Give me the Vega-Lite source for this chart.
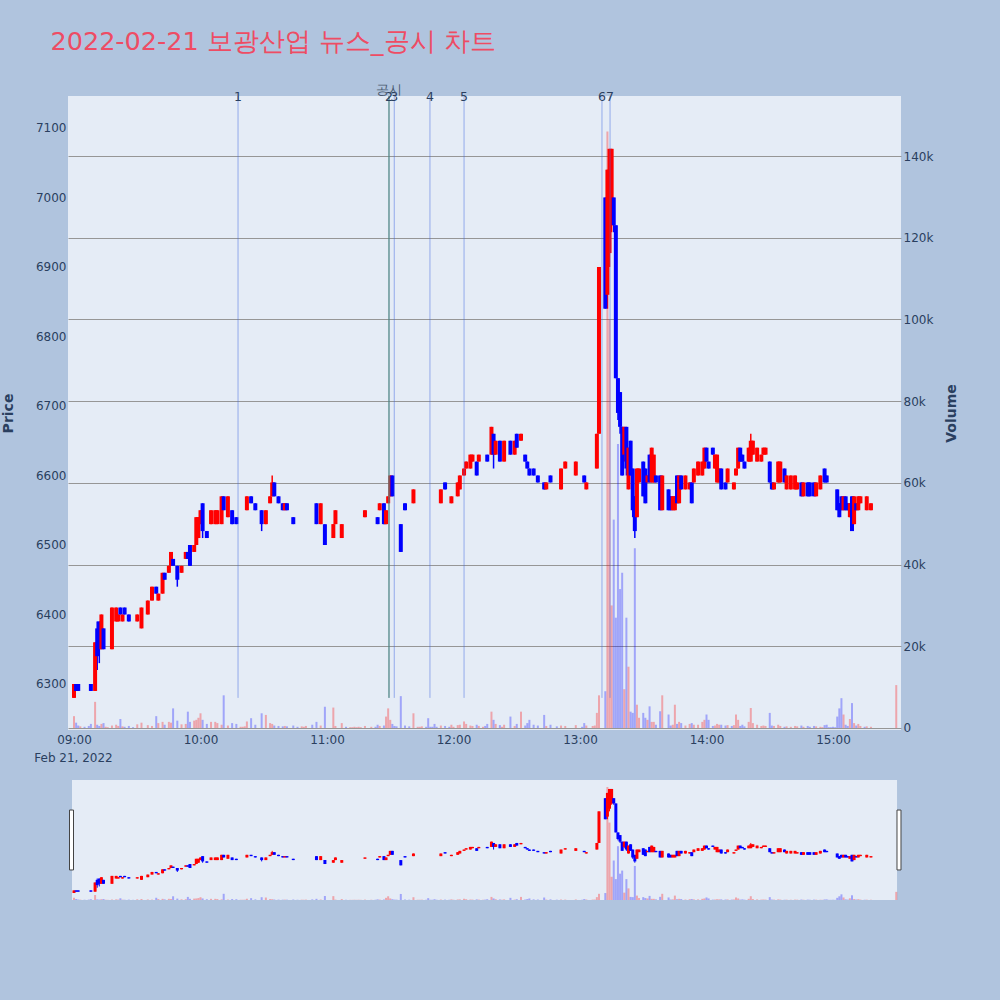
{
  "$schema": "https://vega.github.io/schema/vega-lite/v6.json",
  "background": "#b0c4de",
  "autosize": {"type": "none"},
  "padding": {"left": 68, "top": 96, "right": 99, "bottom": 270},
  "width": 833,
  "height": 634,
  "title": {
    "text": "2022-02-21 보광산업 뉴스_공시 차트",
    "anchor": "start",
    "fontSize": 25.5,
    "fontWeight": "normal",
    "color": "#ee4c64",
    "offset": 29,
    "dx": 49
  },
  "config": {
    "font": "DejaVu Sans",
    "view": {"stroke": null},
    "axis": {
      "labelColor": "#2a3f5f",
      "titleColor": "#2a3f5f",
      "labelFontSize": 12,
      "titleFontSize": 14,
      "titleFontWeight": "bold",
      "ticks": false,
      "domain": false
    }
  },
  "view": {"fill": "#e5ecf6", "stroke": null},
  "data": {
    "values": [
      {"t":"2022-02-21 09:00","o":6280,"h":6300,"l":6280,"c":6300,"v":2900},
      {"t":"2022-02-21 09:01","o":6300,"h":6300,"l":6290,"c":6290,"v":1300},
      {"t":"2022-02-21 09:02","o":6300,"h":6300,"l":6290,"c":6290,"v":600},
      {"t":"2022-02-21 09:03","o":6310,"h":6310,"l":6310,"c":6310,"v":400,"u":1},
      {"t":"2022-02-21 09:05","o":6300,"h":6300,"l":6300,"c":6300,"v":300},
      {"t":"2022-02-21 09:07","o":6300,"h":6300,"l":6300,"c":6300,"v":500},
      {"t":"2022-02-21 09:08","o":6300,"h":6300,"l":6290,"c":6290,"v":1000},
      {"t":"2022-02-21 09:10","o":6290,"h":6360,"l":6290,"c":6360,"v":6400},
      {"t":"2022-02-21 09:11","o":6380,"h":6390,"l":6320,"c":6340,"v":800},
      {"t":"2022-02-21 09:12","o":6390,"h":6390,"l":6330,"c":6350,"v":500},
      {"t":"2022-02-21 09:13","o":6350,"h":6400,"l":6350,"c":6400,"v":1000},
      {"t":"2022-02-21 09:14","o":6380,"h":6380,"l":6350,"c":6350,"v":1200},
      {"t":"2022-02-21 09:15","o":6360,"h":6360,"l":6360,"c":6360,"v":300,"u":1},
      {"t":"2022-02-21 09:16","o":6360,"h":6360,"l":6360,"c":6360,"v":200,"u":1},
      {"t":"2022-02-21 09:18","o":6350,"h":6410,"l":6350,"c":6410,"v":600},
      {"t":"2022-02-21 09:20","o":6390,"h":6410,"l":6390,"c":6410,"v":800},
      {"t":"2022-02-21 09:21","o":6390,"h":6400,"l":6390,"c":6400,"v":500},
      {"t":"2022-02-21 09:22","o":6410,"h":6410,"l":6400,"c":6400,"v":2200},
      {"t":"2022-02-21 09:23","o":6390,"h":6400,"l":6390,"c":6400,"v":400},
      {"t":"2022-02-21 09:24","o":6410,"h":6410,"l":6400,"c":6400,"v":300},
      {"t":"2022-02-21 09:26","o":6400,"h":6400,"l":6390,"c":6390,"v":500},
      {"t":"2022-02-21 09:28","o":6380,"h":6380,"l":6380,"c":6380,"v":200},
      {"t":"2022-02-21 09:30","o":6390,"h":6400,"l":6390,"c":6400,"v":900},
      {"t":"2022-02-21 09:32","o":6380,"h":6410,"l":6380,"c":6410,"v":1300},
      {"t":"2022-02-21 09:35","o":6400,"h":6420,"l":6400,"c":6420,"v":700},
      {"t":"2022-02-21 09:37","o":6420,"h":6440,"l":6420,"c":6440,"v":500},
      {"t":"2022-02-21 09:39","o":6440,"h":6440,"l":6430,"c":6430,"v":2900},
      {"t":"2022-02-21 09:40","o":6420,"h":6430,"l":6420,"c":6430,"v":1200},
      {"t":"2022-02-21 09:42","o":6430,"h":6460,"l":6430,"c":6460,"v":1500},
      {"t":"2022-02-21 09:43","o":6460,"h":6460,"l":6450,"c":6450,"v":800},
      {"t":"2022-02-21 09:45","o":6460,"h":6470,"l":6460,"c":6470,"v":1500},
      {"t":"2022-02-21 09:46","o":6470,"h":6490,"l":6470,"c":6490,"v":1300},
      {"t":"2022-02-21 09:47","o":6480,"h":6480,"l":6470,"c":6470,"v":4800},
      {"t":"2022-02-21 09:49","o":6470,"h":6470,"l":6440,"c":6450,"v":1800},
      {"t":"2022-02-21 09:51","o":6460,"h":6470,"l":6460,"c":6470,"v":900},
      {"t":"2022-02-21 09:53","o":6480,"h":6490,"l":6480,"c":6490,"v":1000},
      {"t":"2022-02-21 09:54","o":6490,"h":6490,"l":6480,"c":6480,"v":4000},
      {"t":"2022-02-21 09:55","o":6500,"h":6500,"l":6470,"c":6470,"v":1500},
      {"t":"2022-02-21 09:57","o":6490,"h":6500,"l":6490,"c":6500,"v":1800},
      {"t":"2022-02-21 09:58","o":6500,"h":6540,"l":6500,"c":6540,"v":2000},
      {"t":"2022-02-21 09:59","o":6510,"h":6540,"l":6510,"c":6540,"v":2500},
      {"t":"2022-02-21 10:00","o":6530,"h":6550,"l":6530,"c":6550,"v":3600},
      {"t":"2022-02-21 10:01","o":6560,"h":6560,"l":6510,"c":6520,"v":2000},
      {"t":"2022-02-21 10:03","o":6520,"h":6520,"l":6510,"c":6510,"v":1000},
      {"t":"2022-02-21 10:05","o":6530,"h":6550,"l":6530,"c":6550,"v":1500},
      {"t":"2022-02-21 10:07","o":6530,"h":6550,"l":6530,"c":6550,"v":1500},
      {"t":"2022-02-21 10:08","o":6530,"h":6550,"l":6530,"c":6550,"v":1200},
      {"t":"2022-02-21 10:10","o":6530,"h":6570,"l":6530,"c":6570,"v":800},
      {"t":"2022-02-21 10:11","o":6570,"h":6570,"l":6550,"c":6550,"v":8000},
      {"t":"2022-02-21 10:13","o":6540,"h":6570,"l":6540,"c":6570,"v":600},
      {"t":"2022-02-21 10:15","o":6550,"h":6550,"l":6530,"c":6530,"v":1200},
      {"t":"2022-02-21 10:17","o":6540,"h":6540,"l":6530,"c":6530,"v":1000},
      {"t":"2022-02-21 10:19","o":6550,"h":6550,"l":6550,"c":6550,"v":300,"u":1},
      {"t":"2022-02-21 10:20","o":6550,"h":6550,"l":6550,"c":6550,"v":300,"u":1},
      {"t":"2022-02-21 10:21","o":6550,"h":6550,"l":6550,"c":6550,"v":400,"u":1},
      {"t":"2022-02-21 10:22","o":6550,"h":6570,"l":6550,"c":6570,"v":1600},
      {"t":"2022-02-21 10:24","o":6570,"h":6570,"l":6560,"c":6560,"v":2400},
      {"t":"2022-02-21 10:26","o":6560,"h":6560,"l":6550,"c":6550,"v":800},
      {"t":"2022-02-21 10:29","o":6550,"h":6550,"l":6520,"c":6530,"v":3600},
      {"t":"2022-02-21 10:31","o":6530,"h":6550,"l":6530,"c":6550,"v":3200},
      {"t":"2022-02-21 10:33","o":6560,"h":6570,"l":6560,"c":6570,"v":1200},
      {"t":"2022-02-21 10:34","o":6570,"h":6600,"l":6570,"c":6590,"v":1000},
      {"t":"2022-02-21 10:35","o":6590,"h":6590,"l":6570,"c":6570,"v":600},
      {"t":"2022-02-21 10:37","o":6570,"h":6570,"l":6560,"c":6560,"v":500},
      {"t":"2022-02-21 10:39","o":6560,"h":6560,"l":6550,"c":6550,"v":400},
      {"t":"2022-02-21 10:40","o":6550,"h":6560,"l":6550,"c":6560,"v":500},
      {"t":"2022-02-21 10:41","o":6560,"h":6560,"l":6550,"c":6550,"v":400},
      {"t":"2022-02-21 10:44","o":6540,"h":6540,"l":6530,"c":6530,"v":600},
      {"t":"2022-02-21 10:46","o":6530,"h":6530,"l":6530,"c":6530,"v":300},
      {"t":"2022-02-21 10:48","o":6540,"h":6540,"l":6540,"c":6540,"v":400,"u":1},
      {"t":"2022-02-21 10:49","o":6540,"h":6540,"l":6540,"c":6540,"v":300,"u":1},
      {"t":"2022-02-21 10:50","o":6540,"h":6540,"l":6540,"c":6540,"v":500,"u":1},
      {"t":"2022-02-21 10:53","o":6530,"h":6530,"l":6530,"c":6530,"v":800},
      {"t":"2022-02-21 10:55","o":6560,"h":6560,"l":6530,"c":6530,"v":1500},
      {"t":"2022-02-21 10:57","o":6530,"h":6560,"l":6530,"c":6560,"v":600},
      {"t":"2022-02-21 10:59","o":6530,"h":6530,"l":6500,"c":6500,"v":5200},
      {"t":"2022-02-21 11:03","o":6510,"h":6530,"l":6510,"c":6530,"v":5000},
      {"t":"2022-02-21 11:04","o":6530,"h":6550,"l":6530,"c":6550,"v":500},
      {"t":"2022-02-21 11:07","o":6510,"h":6530,"l":6510,"c":6530,"v":1200},
      {"t":"2022-02-21 11:09","o":6520,"h":6520,"l":6520,"c":6520,"v":300},
      {"t":"2022-02-21 11:11","o":6530,"h":6530,"l":6530,"c":6530,"v":200,"u":1},
      {"t":"2022-02-21 11:12","o":6530,"h":6530,"l":6530,"c":6530,"v":200,"u":1},
      {"t":"2022-02-21 11:13","o":6530,"h":6530,"l":6530,"c":6530,"v":300,"u":1},
      {"t":"2022-02-21 11:14","o":6530,"h":6530,"l":6530,"c":6530,"v":200,"u":1},
      {"t":"2022-02-21 11:15","o":6530,"h":6530,"l":6530,"c":6530,"v":300,"u":1},
      {"t":"2022-02-21 11:16","o":6530,"h":6530,"l":6530,"c":6530,"v":200,"u":1},
      {"t":"2022-02-21 11:18","o":6540,"h":6550,"l":6540,"c":6550,"v":500},
      {"t":"2022-02-21 11:21","o":6560,"h":6560,"l":6560,"c":6560,"v":300,"u":1},
      {"t":"2022-02-21 11:23","o":6550,"h":6550,"l":6550,"c":6550,"v":300},
      {"t":"2022-02-21 11:24","o":6540,"h":6540,"l":6530,"c":6530,"v":800},
      {"t":"2022-02-21 11:25","o":6550,"h":6560,"l":6550,"c":6560,"v":500},
      {"t":"2022-02-21 11:27","o":6560,"h":6560,"l":6530,"c":6530,"v":600},
      {"t":"2022-02-21 11:28","o":6530,"h":6550,"l":6530,"c":6550,"v":2800},
      {"t":"2022-02-21 11:29","o":6560,"h":6570,"l":6560,"c":6570,"v":4800},
      {"t":"2022-02-21 11:30","o":6570,"h":6600,"l":6570,"c":6600,"v":2000},
      {"t":"2022-02-21 11:31","o":6600,"h":6600,"l":6570,"c":6570,"v":1000},
      {"t":"2022-02-21 11:32","o":6570,"h":6570,"l":6570,"c":6570,"v":500},
      {"t":"2022-02-21 11:33","o":6570,"h":6570,"l":6570,"c":6570,"v":400},
      {"t":"2022-02-21 11:35","o":6530,"h":6530,"l":6490,"c":6490,"v":7800},
      {"t":"2022-02-21 11:37","o":6560,"h":6560,"l":6550,"c":6550,"v":600},
      {"t":"2022-02-21 11:39","o":6550,"h":6550,"l":6550,"c":6550,"v":400},
      {"t":"2022-02-21 11:41","o":6560,"h":6580,"l":6560,"c":6580,"v":3600},
      {"t":"2022-02-21 11:43","o":6590,"h":6590,"l":6590,"c":6590,"v":300,"u":1},
      {"t":"2022-02-21 11:44","o":6590,"h":6590,"l":6590,"c":6590,"v":300,"u":1},
      {"t":"2022-02-21 11:45","o":6590,"h":6590,"l":6590,"c":6590,"v":400,"u":1},
      {"t":"2022-02-21 11:47","o":6560,"h":6560,"l":6560,"c":6560,"v":300},
      {"t":"2022-02-21 11:48","o":6560,"h":6560,"l":6560,"c":6560,"v":2400},
      {"t":"2022-02-21 11:49","o":6560,"h":6560,"l":6560,"c":6560,"v":300},
      {"t":"2022-02-21 11:50","o":6550,"h":6550,"l":6550,"c":6550,"v":300},
      {"t":"2022-02-21 11:51","o":6550,"h":6550,"l":6550,"c":6550,"v":1000},
      {"t":"2022-02-21 11:52","o":6550,"h":6550,"l":6550,"c":6550,"v":300},
      {"t":"2022-02-21 11:54","o":6560,"h":6580,"l":6560,"c":6580,"v":600},
      {"t":"2022-02-21 11:56","o":6590,"h":6590,"l":6580,"c":6580,"v":500},
      {"t":"2022-02-21 11:58","o":6570,"h":6570,"l":6570,"c":6570,"v":300},
      {"t":"2022-02-21 11:59","o":6560,"h":6570,"l":6560,"c":6570,"v":800},
      {"t":"2022-02-21 12:00","o":6570,"h":6570,"l":6570,"c":6570,"v":300,"u":1},
      {"t":"2022-02-21 12:02","o":6570,"h":6590,"l":6570,"c":6590,"v":700},
      {"t":"2022-02-21 12:03","o":6580,"h":6600,"l":6580,"c":6600,"v":800},
      {"t":"2022-02-21 12:05","o":6600,"h":6610,"l":6600,"c":6610,"v":1600},
      {"t":"2022-02-21 12:06","o":6610,"h":6620,"l":6610,"c":6620,"v":1000},
      {"t":"2022-02-21 12:08","o":6610,"h":6630,"l":6610,"c":6630,"v":600},
      {"t":"2022-02-21 12:09","o":6620,"h":6630,"l":6620,"c":6630,"v":500},
      {"t":"2022-02-21 12:11","o":6620,"h":6620,"l":6600,"c":6600,"v":800},
      {"t":"2022-02-21 12:12","o":6620,"h":6630,"l":6620,"c":6630,"v":500},
      {"t":"2022-02-21 12:14","o":6630,"h":6630,"l":6630,"c":6630,"v":300,"u":1},
      {"t":"2022-02-21 12:15","o":6620,"h":6620,"l":6620,"c":6620,"v":500},
      {"t":"2022-02-21 12:16","o":6630,"h":6630,"l":6620,"c":6620,"v":1000},
      {"t":"2022-02-21 12:18","o":6630,"h":6670,"l":6630,"c":6670,"v":4000},
      {"t":"2022-02-21 12:19","o":6660,"h":6660,"l":6610,"c":6630,"v":2000},
      {"t":"2022-02-21 12:20","o":6630,"h":6650,"l":6630,"c":6650,"v":1000},
      {"t":"2022-02-21 12:22","o":6650,"h":6650,"l":6620,"c":6620,"v":700},
      {"t":"2022-02-21 12:23","o":6650,"h":6650,"l":6650,"c":6650,"v":300,"u":1},
      {"t":"2022-02-21 12:24","o":6620,"h":6650,"l":6620,"c":6650,"v":800},
      {"t":"2022-02-21 12:27","o":6650,"h":6650,"l":6630,"c":6630,"v":2800},
      {"t":"2022-02-21 12:29","o":6630,"h":6650,"l":6630,"c":6650,"v":500},
      {"t":"2022-02-21 12:30","o":6660,"h":6660,"l":6640,"c":6640,"v":1000},
      {"t":"2022-02-21 12:32","o":6650,"h":6660,"l":6650,"c":6660,"v":4000},
      {"t":"2022-02-21 12:34","o":6630,"h":6630,"l":6620,"c":6620,"v":600},
      {"t":"2022-02-21 12:35","o":6620,"h":6620,"l":6610,"c":6610,"v":1200},
      {"t":"2022-02-21 12:36","o":6610,"h":6610,"l":6600,"c":6600,"v":2000},
      {"t":"2022-02-21 12:38","o":6610,"h":6610,"l":6600,"c":6600,"v":800},
      {"t":"2022-02-21 12:40","o":6600,"h":6600,"l":6590,"c":6590,"v":600},
      {"t":"2022-02-21 12:43","o":6590,"h":6590,"l":6580,"c":6580,"v":3200},
      {"t":"2022-02-21 12:44","o":6580,"h":6590,"l":6580,"c":6590,"v":500},
      {"t":"2022-02-21 12:46","o":6600,"h":6600,"l":6590,"c":6590,"v":800},
      {"t":"2022-02-21 12:49","o":6580,"h":6580,"l":6580,"c":6580,"v":400},
      {"t":"2022-02-21 12:51","o":6580,"h":6610,"l":6580,"c":6610,"v":600},
      {"t":"2022-02-21 12:53","o":6610,"h":6620,"l":6610,"c":6620,"v":500},
      {"t":"2022-02-21 12:58","o":6600,"h":6620,"l":6600,"c":6620,"v":700},
      {"t":"2022-02-21 13:01","o":6610,"h":6610,"l":6610,"c":6610,"v":300},
      {"t":"2022-02-21 13:02","o":6600,"h":6600,"l":6590,"c":6590,"v":1200},
      {"t":"2022-02-21 13:03","o":6580,"h":6590,"l":6580,"c":6590,"v":600},
      {"t":"2022-02-21 13:06","o":6610,"h":6610,"l":6610,"c":6610,"v":500,"u":1},
      {"t":"2022-02-21 13:07","o":6610,"h":6610,"l":6610,"c":6610,"v":600,"u":1},
      {"t":"2022-02-21 13:08","o":6610,"h":6660,"l":6610,"c":6660,"v":3700},
      {"t":"2022-02-21 13:09","o":6660,"h":6900,"l":6660,"c":6900,"v":8000},
      {"t":"2022-02-21 13:12","o":7000,"h":7000,"l":6840,"c":6840,"v":9000},
      {"t":"2022-02-21 13:13","o":6860,"h":7040,"l":6840,"c":7040,"v":146000},
      {"t":"2022-02-21 13:14","o":6920,"h":7070,"l":6900,"c":7070,"v":100000},
      {"t":"2022-02-21 13:15","o":6960,"h":7070,"l":6950,"c":7070,"v":30000},
      {"t":"2022-02-21 13:16","o":7000,"h":7000,"l":6950,"c":6960,"v":51000},
      {"t":"2022-02-21 13:17","o":6960,"h":6960,"l":6740,"c":6740,"v":27000},
      {"t":"2022-02-21 13:18","o":6740,"h":6740,"l":6680,"c":6690,"v":69500},
      {"t":"2022-02-21 13:19","o":6720,"h":6720,"l":6660,"c":6670,"v":34000},
      {"t":"2022-02-21 13:20","o":6670,"h":6670,"l":6600,"c":6600,"v":38000},
      {"t":"2022-02-21 13:21","o":6630,"h":6670,"l":6620,"c":6670,"v":9500},
      {"t":"2022-02-21 13:22","o":6670,"h":6670,"l":6600,"c":6610,"v":27000},
      {"t":"2022-02-21 13:23","o":6580,"h":6640,"l":6580,"c":6640,"v":15000},
      {"t":"2022-02-21 13:24","o":6650,"h":6650,"l":6600,"c":6600,"v":4000},
      {"t":"2022-02-21 13:25","o":6610,"h":6610,"l":6540,"c":6550,"v":3700},
      {"t":"2022-02-21 13:26","o":6570,"h":6570,"l":6510,"c":6520,"v":44000},
      {"t":"2022-02-21 13:27","o":6540,"h":6610,"l":6540,"c":6610,"v":5700},
      {"t":"2022-02-21 13:28","o":6590,"h":6610,"l":6590,"c":6610,"v":2500},
      {"t":"2022-02-21 13:30","o":6620,"h":6620,"l":6570,"c":6570,"v":3700},
      {"t":"2022-02-21 13:31","o":6610,"h":6610,"l":6560,"c":6560,"v":2500},
      {"t":"2022-02-21 13:32","o":6590,"h":6600,"l":6590,"c":6600,"v":2000},
      {"t":"2022-02-21 13:33","o":6630,"h":6630,"l":6590,"c":6590,"v":5300},
      {"t":"2022-02-21 13:34","o":6590,"h":6640,"l":6590,"c":6640,"v":1500},
      {"t":"2022-02-21 13:35","o":6590,"h":6630,"l":6590,"c":6630,"v":1500},
      {"t":"2022-02-21 13:36","o":6600,"h":6600,"l":6590,"c":6590,"v":800},
      {"t":"2022-02-21 13:38","o":6600,"h":6600,"l":6550,"c":6550,"v":4100},
      {"t":"2022-02-21 13:39","o":6550,"h":6600,"l":6550,"c":6600,"v":8000},
      {"t":"2022-02-21 13:42","o":6580,"h":6580,"l":6550,"c":6550,"v":3300},
      {"t":"2022-02-21 13:43","o":6570,"h":6570,"l":6550,"c":6550,"v":600},
      {"t":"2022-02-21 13:44","o":6550,"h":6570,"l":6550,"c":6570,"v":800},
      {"t":"2022-02-21 13:45","o":6550,"h":6570,"l":6550,"c":6570,"v":5700},
      {"t":"2022-02-21 13:46","o":6600,"h":6600,"l":6560,"c":6560,"v":1000},
      {"t":"2022-02-21 13:47","o":6560,"h":6600,"l":6560,"c":6600,"v":1500},
      {"t":"2022-02-21 13:48","o":6600,"h":6600,"l":6580,"c":6580,"v":1200},
      {"t":"2022-02-21 13:50","o":6580,"h":6600,"l":6580,"c":6600,"v":600},
      {"t":"2022-02-21 13:52","o":6580,"h":6590,"l":6580,"c":6590,"v":1000},
      {"t":"2022-02-21 13:53","o":6590,"h":6590,"l":6560,"c":6560,"v":1200},
      {"t":"2022-02-21 13:54","o":6590,"h":6610,"l":6590,"c":6610,"v":800},
      {"t":"2022-02-21 13:56","o":6600,"h":6620,"l":6600,"c":6620,"v":800},
      {"t":"2022-02-21 13:58","o":6600,"h":6620,"l":6600,"c":6620,"v":1500},
      {"t":"2022-02-21 13:59","o":6610,"h":6640,"l":6610,"c":6640,"v":2000},
      {"t":"2022-02-21 14:00","o":6640,"h":6640,"l":6620,"c":6620,"v":3300},
      {"t":"2022-02-21 14:01","o":6620,"h":6620,"l":6610,"c":6610,"v":2000},
      {"t":"2022-02-21 14:03","o":6640,"h":6640,"l":6630,"c":6630,"v":500},
      {"t":"2022-02-21 14:04","o":6610,"h":6630,"l":6610,"c":6630,"v":600},
      {"t":"2022-02-21 14:05","o":6590,"h":6630,"l":6590,"c":6630,"v":1000},
      {"t":"2022-02-21 14:06","o":6590,"h":6610,"l":6590,"c":6610,"v":800},
      {"t":"2022-02-21 14:07","o":6610,"h":6610,"l":6580,"c":6580,"v":800},
      {"t":"2022-02-21 14:09","o":6590,"h":6590,"l":6580,"c":6580,"v":600},
      {"t":"2022-02-21 14:10","o":6590,"h":6610,"l":6590,"c":6610,"v":700},
      {"t":"2022-02-21 14:12","o":6600,"h":6600,"l":6600,"c":6600,"v":500},
      {"t":"2022-02-21 14:13","o":6580,"h":6590,"l":6580,"c":6590,"v":700},
      {"t":"2022-02-21 14:14","o":6600,"h":6610,"l":6600,"c":6610,"v":3300},
      {"t":"2022-02-21 14:15","o":6610,"h":6640,"l":6610,"c":6640,"v":2000},
      {"t":"2022-02-21 14:16","o":6640,"h":6640,"l":6620,"c":6620,"v":500},
      {"t":"2022-02-21 14:17","o":6630,"h":6630,"l":6620,"c":6620,"v":800},
      {"t":"2022-02-21 14:18","o":6620,"h":6620,"l":6610,"c":6610,"v":400},
      {"t":"2022-02-21 14:20","o":6620,"h":6640,"l":6620,"c":6640,"v":1500},
      {"t":"2022-02-21 14:21","o":6620,"h":6660,"l":6620,"c":6650,"v":4900},
      {"t":"2022-02-21 14:22","o":6630,"h":6650,"l":6630,"c":6650,"v":1200},
      {"t":"2022-02-21 14:24","o":6620,"h":6640,"l":6620,"c":6640,"v":800},
      {"t":"2022-02-21 14:26","o":6620,"h":6630,"l":6620,"c":6630,"v":500},
      {"t":"2022-02-21 14:27","o":6630,"h":6640,"l":6630,"c":6640,"v":600},
      {"t":"2022-02-21 14:28","o":6630,"h":6640,"l":6630,"c":6640,"v":500},
      {"t":"2022-02-21 14:30","o":6620,"h":6620,"l":6590,"c":6590,"v":3700},
      {"t":"2022-02-21 14:31","o":6590,"h":6590,"l":6580,"c":6580,"v":600},
      {"t":"2022-02-21 14:32","o":6580,"h":6590,"l":6580,"c":6590,"v":500},
      {"t":"2022-02-21 14:34","o":6590,"h":6620,"l":6590,"c":6620,"v":800},
      {"t":"2022-02-21 14:35","o":6590,"h":6620,"l":6590,"c":6620,"v":500},
      {"t":"2022-02-21 14:37","o":6610,"h":6610,"l":6590,"c":6590,"v":300},
      {"t":"2022-02-21 14:38","o":6580,"h":6600,"l":6580,"c":6600,"v":400},
      {"t":"2022-02-21 14:40","o":6580,"h":6600,"l":6580,"c":6600,"v":300},
      {"t":"2022-02-21 14:42","o":6580,"h":6600,"l":6580,"c":6600,"v":500},
      {"t":"2022-02-21 14:43","o":6580,"h":6590,"l":6580,"c":6590,"v":400},
      {"t":"2022-02-21 14:45","o":6590,"h":6590,"l":6570,"c":6570,"v":600},
      {"t":"2022-02-21 14:46","o":6570,"h":6590,"l":6570,"c":6590,"v":300},
      {"t":"2022-02-21 14:48","o":6590,"h":6590,"l":6570,"c":6570,"v":500},
      {"t":"2022-02-21 14:49","o":6590,"h":6590,"l":6570,"c":6570,"v":300},
      {"t":"2022-02-21 14:51","o":6590,"h":6590,"l":6570,"c":6570,"v":500},
      {"t":"2022-02-21 14:52","o":6570,"h":6590,"l":6570,"c":6590,"v":400},
      {"t":"2022-02-21 14:54","o":6580,"h":6600,"l":6580,"c":6600,"v":300},
      {"t":"2022-02-21 14:55","o":6620,"h":6620,"l":6620,"c":6620,"v":200,"u":1},
      {"t":"2022-02-21 14:56","o":6610,"h":6610,"l":6590,"c":6590,"v":700},
      {"t":"2022-02-21 14:57","o":6600,"h":6600,"l":6590,"c":6590,"v":800},
      {"t":"2022-02-21 14:58","o":6590,"h":6590,"l":6590,"c":6590,"v":200},
      {"t":"2022-02-21 14:59","o":6590,"h":6590,"l":6590,"c":6590,"v":200},
      {"t":"2022-02-21 15:00","o":6590,"h":6590,"l":6590,"c":6590,"v":300},
      {"t":"2022-02-21 15:01","o":6590,"h":6590,"l":6590,"c":6590,"v":200},
      {"t":"2022-02-21 15:02","o":6580,"h":6580,"l":6550,"c":6550,"v":2800},
      {"t":"2022-02-21 15:03","o":6560,"h":6560,"l":6540,"c":6540,"v":4800},
      {"t":"2022-02-21 15:04","o":6570,"h":6570,"l":6550,"c":6550,"v":7300},
      {"t":"2022-02-21 15:05","o":6550,"h":6570,"l":6550,"c":6570,"v":3300},
      {"t":"2022-02-21 15:06","o":6570,"h":6570,"l":6550,"c":6550,"v":800},
      {"t":"2022-02-21 15:07","o":6560,"h":6560,"l":6550,"c":6550,"v":500},
      {"t":"2022-02-21 15:08","o":6540,"h":6560,"l":6540,"c":6560,"v":2200},
      {"t":"2022-02-21 15:09","o":6570,"h":6570,"l":6520,"c":6520,"v":6100},
      {"t":"2022-02-21 15:10","o":6530,"h":6570,"l":6530,"c":6570,"v":1200},
      {"t":"2022-02-21 15:11","o":6560,"h":6560,"l":6550,"c":6550,"v":600},
      {"t":"2022-02-21 15:12","o":6550,"h":6570,"l":6550,"c":6570,"v":1000},
      {"t":"2022-02-21 15:13","o":6560,"h":6570,"l":6560,"c":6570,"v":500},
      {"t":"2022-02-21 15:15","o":6560,"h":6560,"l":6560,"c":6560,"v":300},
      {"t":"2022-02-21 15:16","o":6550,"h":6570,"l":6550,"c":6570,"v":400},
      {"t":"2022-02-21 15:18","o":6550,"h":6560,"l":6550,"c":6560,"v":300},
      {"t":"2022-02-21 15:30","o":6590,"h":6590,"l":6590,"c":6590,"v":10500,"u":1}
    ]
  },
  "encoding": {
    "x": {
      "field": "t",
      "type": "temporal",
      "scale": {
        "nice": false,
        "padding": 0,
        "domain": [
          {"year": 2022, "month": 2, "date": 21, "hours": 8, "minutes": 57, "seconds": 9},
          {"year": 2022, "month": 2, "date": 21, "hours": 15, "minutes": 32, "seconds": 15}
        ]
      },
      "axis": {
        "title": "Feb 21, 2022",
        "titleFontWeight": "normal",
        "titleFontSize": 12,
        "titleAnchor": "start",
        "titleAlign": "center",
        "titlePadding": 7,
        "titleX": 5,
        "grid": false,
        "format": "%H:%M",
        "tickCount": 7,
        "labelPadding": 4
      }
    }
  },
  "layer": [
    {
      "mark": {"type": "bar", "size": 2, "opacity": 0.3},
      "encoding": {
        "y": {
          "field": "v",
          "type": "quantitative",
          "scale": {"domain": [-490, 154690], "nice": false, "zero": false},
          "axis": {
            "orient": "right",
            "title": "Volume",
            "values": [0, 20000, 40000, 60000, 80000, 100000, 120000, 140000],
            "format": "~s",
            "labelExpr": "datum.value == 0 ? '0' : datum.label",
            "gridColor": "#969696",
            "labelPadding": 2,
            "titlePadding": 12,
            "titleAngle": 270,
            "titleBaseline": "top"
          }
        },
        "y2": {"datum": 0},
        "color": {"condition": {"test": "datum.c > datum.o || datum.u == 1", "value": "#ff0000"}, "value": "#0000ff"}
      }
    },
    {
      "layer": [
        {
          "mark": {"type": "rule", "strokeWidth": 1.5},
          "encoding": {
            "y": {
              "field": "l",
              "type": "quantitative",
              "scale": {"domain": [6233.8, 7146], "nice": false, "zero": false},
              "axis": {
                "title": "Price",
                "values": [6300, 6400, 6500, 6600, 6700, 6800, 6900, 7000, 7100],
                "format": "d",
                "gridColor": "#ffffff",
                "labelPadding": 2,
                "titlePadding": 20
              }
            },
            "y2": {"field": "h"},
            "color": {"condition": {"test": "datum.c > datum.o || datum.u == 1", "value": "#ff0000"}, "value": "#0000ff"}
          }
        },
        {
          "mark": {"type": "bar", "size": 4, "minBandSize": 2},
          "encoding": {
            "y": {"field": "o", "type": "quantitative"},
            "y2": {"field": "c"},
            "color": {"condition": {"test": "datum.c > datum.o || datum.u == 1", "value": "#ff0000"}, "value": "#0000ff"}
          }
        },
        {
          "data": {"values": [
            {"t":"2022-02-21 10:17:48","n":"1"},
            {"t":"2022-02-21 11:29:24","n":"2"},
            {"t":"2022-02-21 11:31:54","n":"3"},
            {"t":"2022-02-21 11:48:50","n":"4"},
            {"t":"2022-02-21 12:05:00","n":"5"},
            {"t":"2022-02-21 13:10:25","n":"6"},
            {"t":"2022-02-21 13:14:15","n":"7"}
          ]},
          "mark": {"type": "rule", "color": "#4169e1", "opacity": 0.5, "strokeWidth": 1},
          "encoding": {
            "y": {"datum": 6280, "type": "quantitative"},
            "y2": {"datum": 7146}
          }
        },
        {
          "data": {"values": [{"t":"2022-02-21 11:29:24","n":"공시"}]},
          "mark": {"type": "rule", "color": "#4f8a6c", "strokeWidth": 1},
          "encoding": {
            "y": {"datum": 6280, "type": "quantitative"},
            "y2": {"datum": 7146}
          }
        },
        {
          "data": {"values": [
            {"t":"2022-02-21 10:17:48","n":"1"},
            {"t":"2022-02-21 11:29:24","n":"2"},
            {"t":"2022-02-21 11:31:54","n":"3"},
            {"t":"2022-02-21 11:48:50","n":"4"},
            {"t":"2022-02-21 12:05:00","n":"5"},
            {"t":"2022-02-21 13:10:25","n":"6"},
            {"t":"2022-02-21 13:14:15","n":"7"}
          ]},
          "mark": {"type": "text", "fontSize": 12.5, "color": "#2a3f5f", "baseline": "middle", "dy": 1},
          "encoding": {
            "y": {"datum": 7146, "type": "quantitative"},
            "text": {"field": "n", "type": "nominal"}
          }
        },
        {
          "data": {"values": [{"t":"2022-02-21 11:29:24","n":"공시"}]},
          "mark": {"type": "text", "fontSize": 12.5, "color": "#4a5a70", "baseline": "middle", "dy": -6},
          "encoding": {
            "y": {"datum": 7146, "type": "quantitative"},
            "text": {"field": "n", "type": "nominal"}
          }
        }
      ]
    },
    {
      "data": {"values": [{"t":"2022-02-21 08:59:03","t2":"2022-02-21 15:30:22","lo":0,"hi":1}], "format": {"parse": {"t2": "date"}}},
      "mark": {"type": "rect", "color": "#e5ecf6"},
      "encoding": {
        "x2": {"field": "t2"},
        "y": {"field": "lo", "type": "quantitative", "scale": {"domain": [0, 1], "range": [804, 684]}, "axis": null},
        "y2": {"field": "hi"}
      }
    },
    {
      "mark": {"type": "bar", "size": 2, "opacity": 0.3},
      "encoding": {
        "y": {"field": "v", "type": "quantitative", "scale": {"domain": [0, 155000], "nice": false, "range": [804, 684]}, "axis": null},
        "y2": {"datum": 0},
        "color": {"condition": {"test": "datum.c > datum.o || datum.u == 1", "value": "#ff0000"}, "value": "#0000ff"}
      }
    },
    {
      "layer": [
        {
          "mark": {"type": "rule", "strokeWidth": 1},
          "encoding": {
            "y": {"field": "l", "type": "quantitative", "scale": {"domain": [6227, 7138], "nice": false, "zero": false, "range": [804, 684]}, "axis": null},
            "y2": {"field": "h"},
            "color": {"condition": {"test": "datum.c > datum.o || datum.u == 1", "value": "#ff0000"}, "value": "#0000ff"}
          }
        },
        {
          "mark": {"type": "bar", "size": 3, "minBandSize": 1.5},
          "encoding": {
            "y": {"field": "o", "type": "quantitative"},
            "y2": {"field": "c"},
            "color": {"condition": {"test": "datum.c > datum.o || datum.u == 1", "value": "#ff0000"}, "value": "#0000ff"}
          }
        },
        {
          "data": {"values": [{"t":"2022-02-21 08:58:49"}, {"t":"2022-02-21 15:31:18"}]},
          "mark": {"type": "bar", "size": 4, "fill": "#ffffff", "stroke": "#444444", "strokeWidth": 1},
          "encoding": {
            "y": {"datum": 6455, "type": "quantitative"},
            "y2": {"datum": 6910}
          }
        }
      ]
    }
  ],
  "resolve": {"scale": {"y": "independent"}, "axis": {"y": "independent"}}
}
